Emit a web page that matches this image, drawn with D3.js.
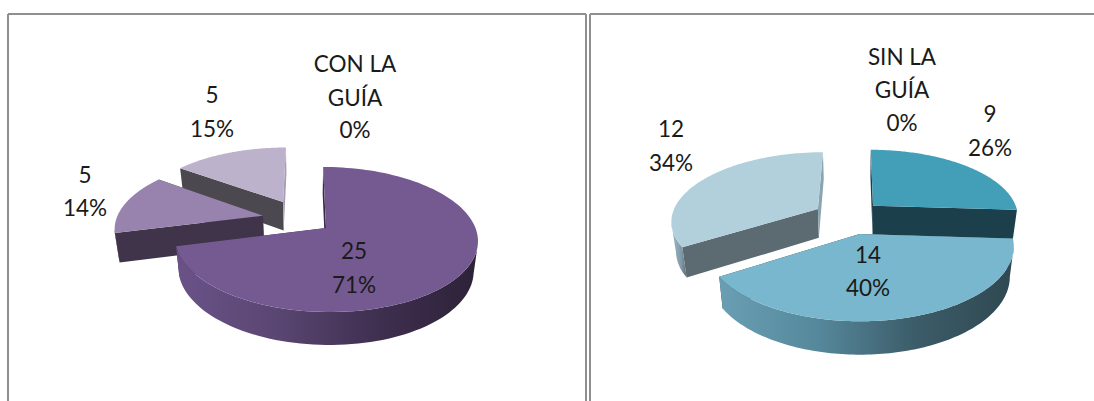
<!DOCTYPE html>
<html><head><meta charset="utf-8">
<script src="https://cdnjs.cloudflare.com/ajax/libs/d3/7.8.5/d3.min.js"></script>
<style>html,body{margin:0;padding:0;background:#fff;overflow:hidden}svg{display:block}text{font-family:Lato,"Open Sans",sans-serif;font-size:22.5px;fill:#1a1a1a;text-anchor:middle}</style>
</head><body><svg id="c" width="1094" height="401"></svg>
<script>
// data
const leftNames = ["", "", "", "CON LA GUÍA"];
const leftCounts = [25, 5, 5, 0];
const leftPercents = [71, 14, 15, 0];
const rightNames = ["", "", "", "SIN LA GUÍA"];
const rightCounts = [9, 14, 12, 0];
const rightPercents = [26, 40, 34, 0];

// layout
const RX = 149.5, RY = 70.7, K = 0.1586, BOT_SCALE = 0.975, H0 = 29.5;
const panels = [
  {id:"L", cx:326, vx:305, cy:228, percents:leftPercents, counts:leftCounts, names:leftNames,
   explode:[[0,0],[-.43,-.18],[-.296,-.389]],
   order:[2,1,0],
   top:["#755a92","#9883ae","#bdb2cb"],
   cutStart:["#3a2c48","#40344a","#4c4850"],
   cutEnd:["#3a2c48","#40344a","#a59bb3"],
   rim:[["#6a5288","#5a4672","#3f2f50","#2d2238"],["#5a4a6a","#4a3c58","#40344a","#40344a"],["#77708a","#6a6478","#5a5566","#4c4850"]],
   labels:[[354,[259,293]],[85,[183,216]],[212,[103,137]],[355,[72,106,138]]]},
  {id:"R", cx:827, vx:856, cy:226, percents:rightPercents, counts:rightCounts, names:rightNames,
   explode:[[.313,-.3],[.217,.11],[-.071,-.25]],
   order:[0,2,1],
   top:["#439fb8","#78b7cd","#b2d0dc"],
   cutStart:["#1b3f4b","#2f4851","#5c6a72"],
   cutEnd:["#1b3f4b","#2f4851","#8aa5b2"],
   rim:[["#2e6c80","#24525f","#1b3f4b","#1b3f4b"],["#6a9fb3","#55889b","#3c5c69","#2f4851"],["#9ab8c6","#8fa9b6","#7f98a5","#5c6a72"]],
   labels:[[990,[122,156]],[868,[263,296]],[671,[137,171]],[902,[65,98,131]]]}
];

const svg = d3.select("#c");
const defs = svg.append("defs");

// perspective projection of a disc point (u,v), optional lower face
function project(p, u, v, low){
  const s = 1/(1-K*v), X = (p.cx-p.vx+RX*u)*s;
  if(!low) return [p.vx+X, p.cy+RY*v*s];
  return [p.vx+X*BOT_SCALE, p.cy+RY*v*s*BOT_SCALE+H0*s];
}
const line = d3.line();
const pieGen = d3.pie().sort(null).startAngle(0).endAngle(2*Math.PI);

// frame
const frame = [[8,401,8,14],[8,14,586,14],[586,14,586,401],[590,401,590,14],[590,14,1094,14]];
svg.append("g").selectAll("line").data(frame).join("line")
  .attr("x1",d=>d[0]).attr("y1",d=>d[1]).attr("x2",d=>d[2]).attr("y2",d=>d[3])
  .attr("stroke","#8f8f8f").attr("stroke-width",2);

panels.forEach(p=>{
  const g = svg.append("g");
  const arcs = pieGen(p.percents);
  p.order.forEach(i=>{
    const a = arcs[i], [du,dv] = p.explode[i];
    const ang = d3.range(0,121).map(t=>a.startAngle+(a.endAngle-a.startAngle)*t/120);
    const pt = (th,low)=>project(p,du+Math.sin(th),dv-Math.cos(th),low);
    const outerTop = ang.map(th=>pt(th,false));
    const apexT = project(p,du,dv,false), apexL = project(p,du,dv,true);
    const sl = g.append("g");
    // cut faces
    [[ang[0],p.cutStart[i]],[ang[120],p.cutEnd[i]]].forEach(([th,col])=>{
      sl.append("path").attr("d",line([apexT,pt(th,false),pt(th,true),apexL])+"Z").attr("fill",col);
    });
    // rim: only the part of the wall that faces the viewer
    const camU = (p.vx-p.cx)/RX, camV = 1/K;
    const front = ang.filter(th=>{
      const nu=Math.sin(th), nv=-Math.cos(th);
      return (camU-(du+nu))*nu+(camV-(dv+nv))*nv>0;
    });
    if(front.length>1){
      const ft = front.map(th=>pt(th,false)), fl = front.map(th=>pt(th,true));
      const xs = ft.concat(fl).map(d=>d[0]);
      const gid = "g"+p.id+i;
      const gr = defs.append("linearGradient").attr("id",gid).attr("gradientUnits","userSpaceOnUse")
        .attr("x1",d3.min(xs)).attr("x2",d3.max(xs)).attr("y1",0).attr("y2",0);
      p.rim[i].forEach((c,j)=>gr.append("stop").attr("offset",j/3).attr("stop-color",c));
      sl.append("path").attr("d",line(ft.concat(fl.slice().reverse()))+"Z").attr("fill",`url(#${gid})`);
    }
    // top face
    sl.append("path").attr("d",line([apexT].concat(outerTop))+"Z").attr("fill",p.top[i]);
  });
  // labels
  p.labels.forEach((l,i)=>{
    const rows = (p.names[i]? p.names[i].replace(/ (?=[^ ]+$)/,"|").split("|"):[p.counts[i]]).concat(p.percents[i]+"%");
    rows.forEach((r,j)=>g.append("text").attr("x",l[0]).attr("y",l[1][j]).text(r));
  });
});
</script></body></html>
